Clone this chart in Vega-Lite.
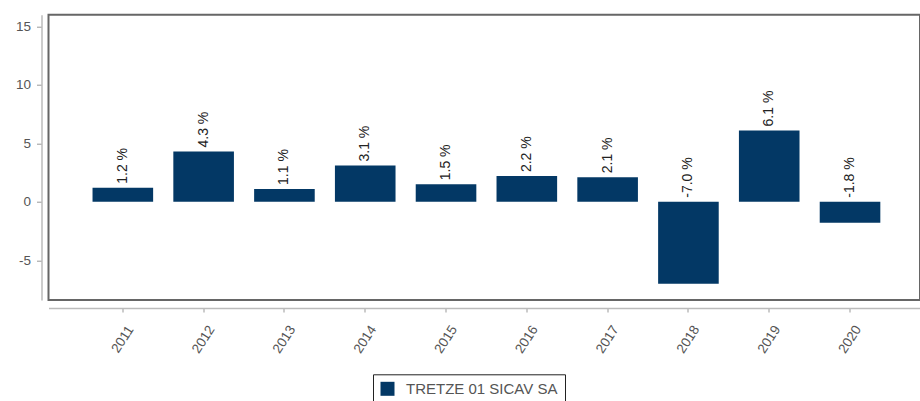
{
  "$schema": "https://vega.github.io/schema/vega-lite/v6.json",
  "width": 871.5,
  "height": 285.3,
  "autosize": {"type": "none"},
  "padding": {"left": 48.5, "top": 14.7, "right": 0, "bottom": 101},
  "config": {
    "font": "Liberation Sans",
    "view": {"stroke": "#666", "strokeWidth": 2},
    "axisY": {
      "offset": 7,
      "tickSize": 5,
      "labelPadding": 6,
      "domainColor": "#bbb",
      "domainWidth": 1.5,
      "tickColor": "#999",
      "labelColor": "#555",
      "labelFontSize": 13.5,
      "grid": false
    }
  },
  "data": {
    "values": [
      {"year": "2011", "value": 1.2, "label": "1.2 %", "series": "TRETZE 01 SICAV SA"},
      {"year": "2012", "value": 4.3, "label": "4.3 %", "series": "TRETZE 01 SICAV SA"},
      {"year": "2013", "value": 1.1, "label": "1.1 %", "series": "TRETZE 01 SICAV SA"},
      {"year": "2014", "value": 3.1, "label": "3.1 %", "series": "TRETZE 01 SICAV SA"},
      {"year": "2015", "value": 1.5, "label": "1.5 %", "series": "TRETZE 01 SICAV SA"},
      {"year": "2016", "value": 2.2, "label": "2.2 %", "series": "TRETZE 01 SICAV SA"},
      {"year": "2017", "value": 2.1, "label": "2.1 %", "series": "TRETZE 01 SICAV SA"},
      {"year": "2018", "value": -7.0, "label": "-7.0 %", "series": "TRETZE 01 SICAV SA"},
      {"year": "2019", "value": 6.1, "label": "6.1 %", "series": "TRETZE 01 SICAV SA"},
      {"year": "2020", "value": -1.8, "label": "-1.8 %", "series": "TRETZE 01 SICAV SA"}
    ]
  },
  "encoding": {
    "x": {
      "field": "year",
      "type": "ordinal",
      "scale": {"paddingInner": 0.25, "paddingOuter": 0.518, "align": 0.526},
      "axis": {
        "title": null,
        "offset": 8,
        "labelAngle": -57,
        "labelAlign": "center",
        "labelBaseline": "middle",
        "labelPadding": 27,
        "tickSize": 4,
        "domainColor": "#bbb",
        "domainWidth": 1.5,
        "tickColor": "#999",
        "labelColor": "#555",
        "labelFontSize": 13.5
      }
    }
  },
  "layer": [
    {
      "mark": {"type": "bar"},
      "encoding": {
        "y": {
          "field": "value",
          "type": "quantitative",
          "title": null,
          "scale": {"domain": [-8.4, 16], "nice": false, "zero": false},
          "axis": {"values": [-5, 0, 5, 10, 15], "labelExpr": "replace(datum.label, '\u2212', '-')"}
        },
        "color": {
          "field": "series",
          "type": "nominal",
          "scale": {"range": ["#033865"]},
          "legend": {
            "title": null,
            "orient": "none",
            "legendX": 324.5,
            "legendY": 359.6,
            "symbolType": "square",
            "symbolSize": 196,
            "symbolStrokeWidth": 0,
            "labelFontSize": 15,
            "labelColor": "#555",
            "strokeColor": "#222",
            "padding": 7,
            "labelOffset": 11
          }
        }
      }
    },
    {
      "transform": [{"filter": "datum.value >= 0"}],
      "mark": {"type": "text", "angle": 270, "align": "left", "baseline": "middle", "dx": 4, "fontSize": 14, "color": "#222"},
      "encoding": {
        "y": {"field": "value", "type": "quantitative", "title": null},
        "text": {"field": "label"}
      }
    },
    {
      "transform": [{"filter": "datum.value < 0"}],
      "mark": {"type": "text", "angle": 270, "align": "left", "baseline": "middle", "dx": 4, "fontSize": 14, "color": "#222"},
      "encoding": {
        "y": {"datum": 0, "type": "quantitative", "title": null},
        "text": {"field": "label"}
      }
    }
  ]
}
